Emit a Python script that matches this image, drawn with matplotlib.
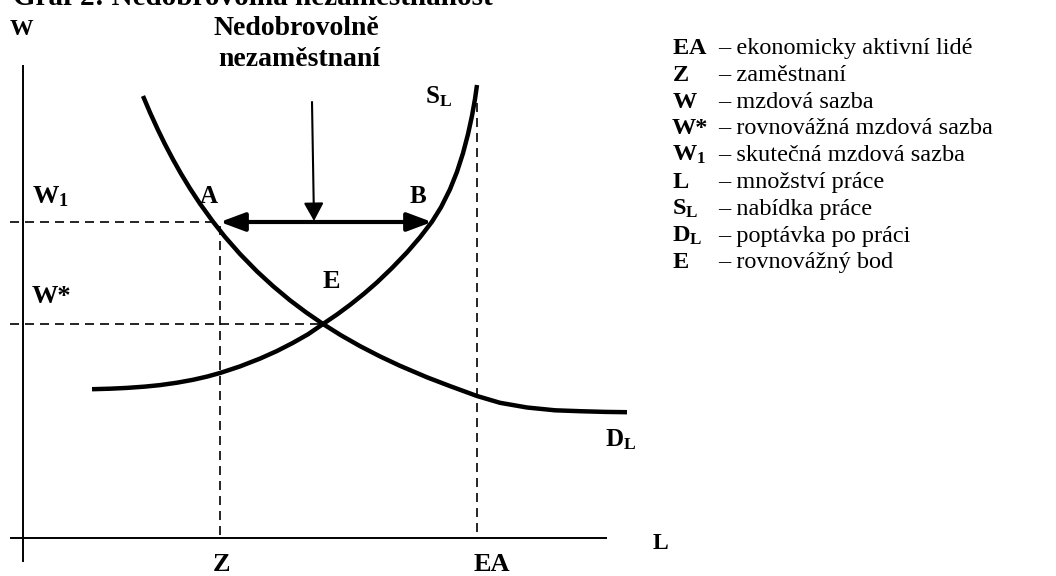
import matplotlib
matplotlib.use("Agg")
import matplotlib.pyplot as plt

plt.rcParams['font.family'] = ['Liberation Serif', 'DejaVu Serif']
plt.rcParams['mathtext.fontset'] = 'custom'
plt.rcParams['mathtext.rm'] = 'Liberation Serif'
plt.rcParams['mathtext.bf'] = 'Liberation Serif:bold'
plt.rcParams['mathtext.it'] = 'Liberation Serif:italic'
plt.rcParams['lines.scale_dashes'] = False

# ---- data (diagram units: L = labour quantity, W = wage) ----
supply_L = [69, 87, 104, 122, 137, 154, 170, 184, 197, 217, 237, 254, 270, 285, 300,
            314, 327, 341, 354, 369, 384, 397, 409, 418, 427, 434, 440, 445, 449, 452, 454]
supply_W = [148.8, 149.3, 150.1, 151.4, 152.9, 155.3, 158.2, 161.4, 165, 171.6, 179.4,
            187, 195.2, 203.7, 214, 223.5, 233.1, 244.3, 255.6, 270, 285.6, 300.7, 316.3,
            330.7, 348.7, 366.2, 384.8, 403.8, 422.2, 439, 453]

demand_L = [120, 127, 135, 142, 150, 158, 167, 177, 190, 202, 217, 234, 250, 267, 283,
            300, 318, 337, 357, 377, 404, 427, 454, 477, 504, 532, 557, 582, 604]
demand_W = [442, 425.5, 408, 393.7, 378.5, 364.3, 349.5, 334.3, 316.3, 301.1, 284,
            266.6, 251.9, 237.7, 225.7, 214, 202.7, 191.9, 181.6, 172.2, 160.7, 151.9,
            142, 135.2, 130.5, 127.7, 126.8, 126.1, 125.8]

W1_level = 316        # actual wage
W_star_level = 214    # equilibrium wage
L_Z = 197             # employed
L_EA = 454            # economically active
L_A = 190
L_B = 409
L_E = 300

title_text = "Graf 2: Nedobrovolná nezaměstnanost"
arrow_label = ["Nedobrovolně", "nezaměstnaní"]

legend_keys = [r"$\mathbf{EA}$", r"$\mathbf{Z}$", r"$\mathbf{W}$", "W*",
               r"$\mathbf{W_1}$", r"$\mathbf{L}$", r"$\mathbf{S_L}$", r"$\mathbf{D_L}$",
               r"$\mathbf{E}$"]
legend_desc = ["ekonomicky aktivní lidé", "zaměstnaní", "mzdová sazba",
               "rovnovážná mzdová sazba", "skutečná mzdová sazba", "množství práce",
               "nabídka práce", "poptávka po práci", "rovnovážný bod"]

# ---- figure ----
fig = plt.figure(figsize=(10.56, 5.76), dpi=100)
ax = fig.add_axes([0, 0, 1, 1])
ax.set_xlim(-23, 1033)
ax.set_ylim(-38, 538)
ax.axis('off')

K = 'black'
# axes
ax.plot([0, 0], [-24, 473], color=K, lw=1.4, solid_capstyle='butt')
ax.plot([-13, 584], [0, 0], color=K, lw=1.4, solid_capstyle='butt')

# dashed guides
dash = dict(color=K, lw=1.2, linestyle=(0, (6.5, 4.3)))
ax.plot([-13, L_A], [W1_level, W1_level], **dash)
ax.plot([-13, L_E], [W_star_level, W_star_level], **dash)
ax.plot([L_Z, L_Z], [W1_level - 4, 0], **dash)
ax.plot([L_EA, L_EA], [435, 0], **dash)

# curves
ax.plot(supply_L, supply_W, color=K, lw=3.2, solid_capstyle='butt', solid_joinstyle='round')
ax.plot(demand_L, demand_W, color=K, lw=3.2, solid_capstyle='butt', solid_joinstyle='round')

# double arrow A-B
ax.annotate('', xy=(L_B, W1_level), xytext=(L_Z, W1_level),
            arrowprops=dict(arrowstyle='<|-|>,head_length=0.75,head_width=0.28',
                            mutation_scale=20, lw=3.0, color=K,
                            shrinkA=0, shrinkB=0))
# pointer arrow
ax.annotate('', xy=(291, W1_level + 1), xytext=(289, 436),
            arrowprops=dict(arrowstyle='-|>,head_length=0.55,head_width=0.3',
                            mutation_scale=20, lw=1.5, color=K,
                            shrinkA=0, shrinkB=0))

bold = dict(fontweight='bold', color=K, va='baseline')
# title (cut at the top edge as in the source)
ax.text(-10, 533, title_text, fontsize=21, ha='left', **bold)
ax.text(-13, 503, "W", fontsize=17, ha='left', **bold)
ax.text(630, -11, "L", fontsize=17, ha='left', **bold)
ax.text(273, 503, arrow_label[0], fontsize=20, ha='center', **bold)
ax.text(276, 472, arrow_label[1], fontsize=20, ha='center', **bold)
ax.text(9, 335, r"$\mathbf{W_1}$", fontsize=19, ha='left', color=K, va='baseline')
ax.text(9, 235, "W*", fontsize=19, ha='left', **bold)
ax.text(L_A - 4, 335, "A", fontsize=18, ha='center', **bold)
ax.text(L_B - 14, 335, "B", fontsize=18, ha='center', **bold)
ax.text(L_E + 8, 250, "E", fontsize=19, ha='center', **bold)
ax.text(402, 435, r"$\mathbf{S_L}$", fontsize=18, ha='left', color=K, va='baseline')
ax.text(582, 92, r"$\mathbf{D_L}$", fontsize=18, ha='left', color=K, va='baseline')
ax.text(L_Z + 2, -33, "Z", fontsize=19, ha='center', **bold)
ax.text(L_EA + 15, -33, "EA", fontsize=19, ha='center', **bold)

# legend
for i, (k, d) in enumerate(zip(legend_keys, legend_desc)):
    wy = 538 - (54 + 26.8 * i)
    if k == "W*":
        ax.text(649, wy, k, fontsize=17.5, ha='left', **bold)
    else:
        ax.text(649, wy, k, fontsize=17.5, ha='left', va='baseline', color=K)
    ax.text(695, wy, "– " + d, fontsize=17.5, ha='left', va='baseline', color=K)

fig.savefig("out.png", dpi=100)
